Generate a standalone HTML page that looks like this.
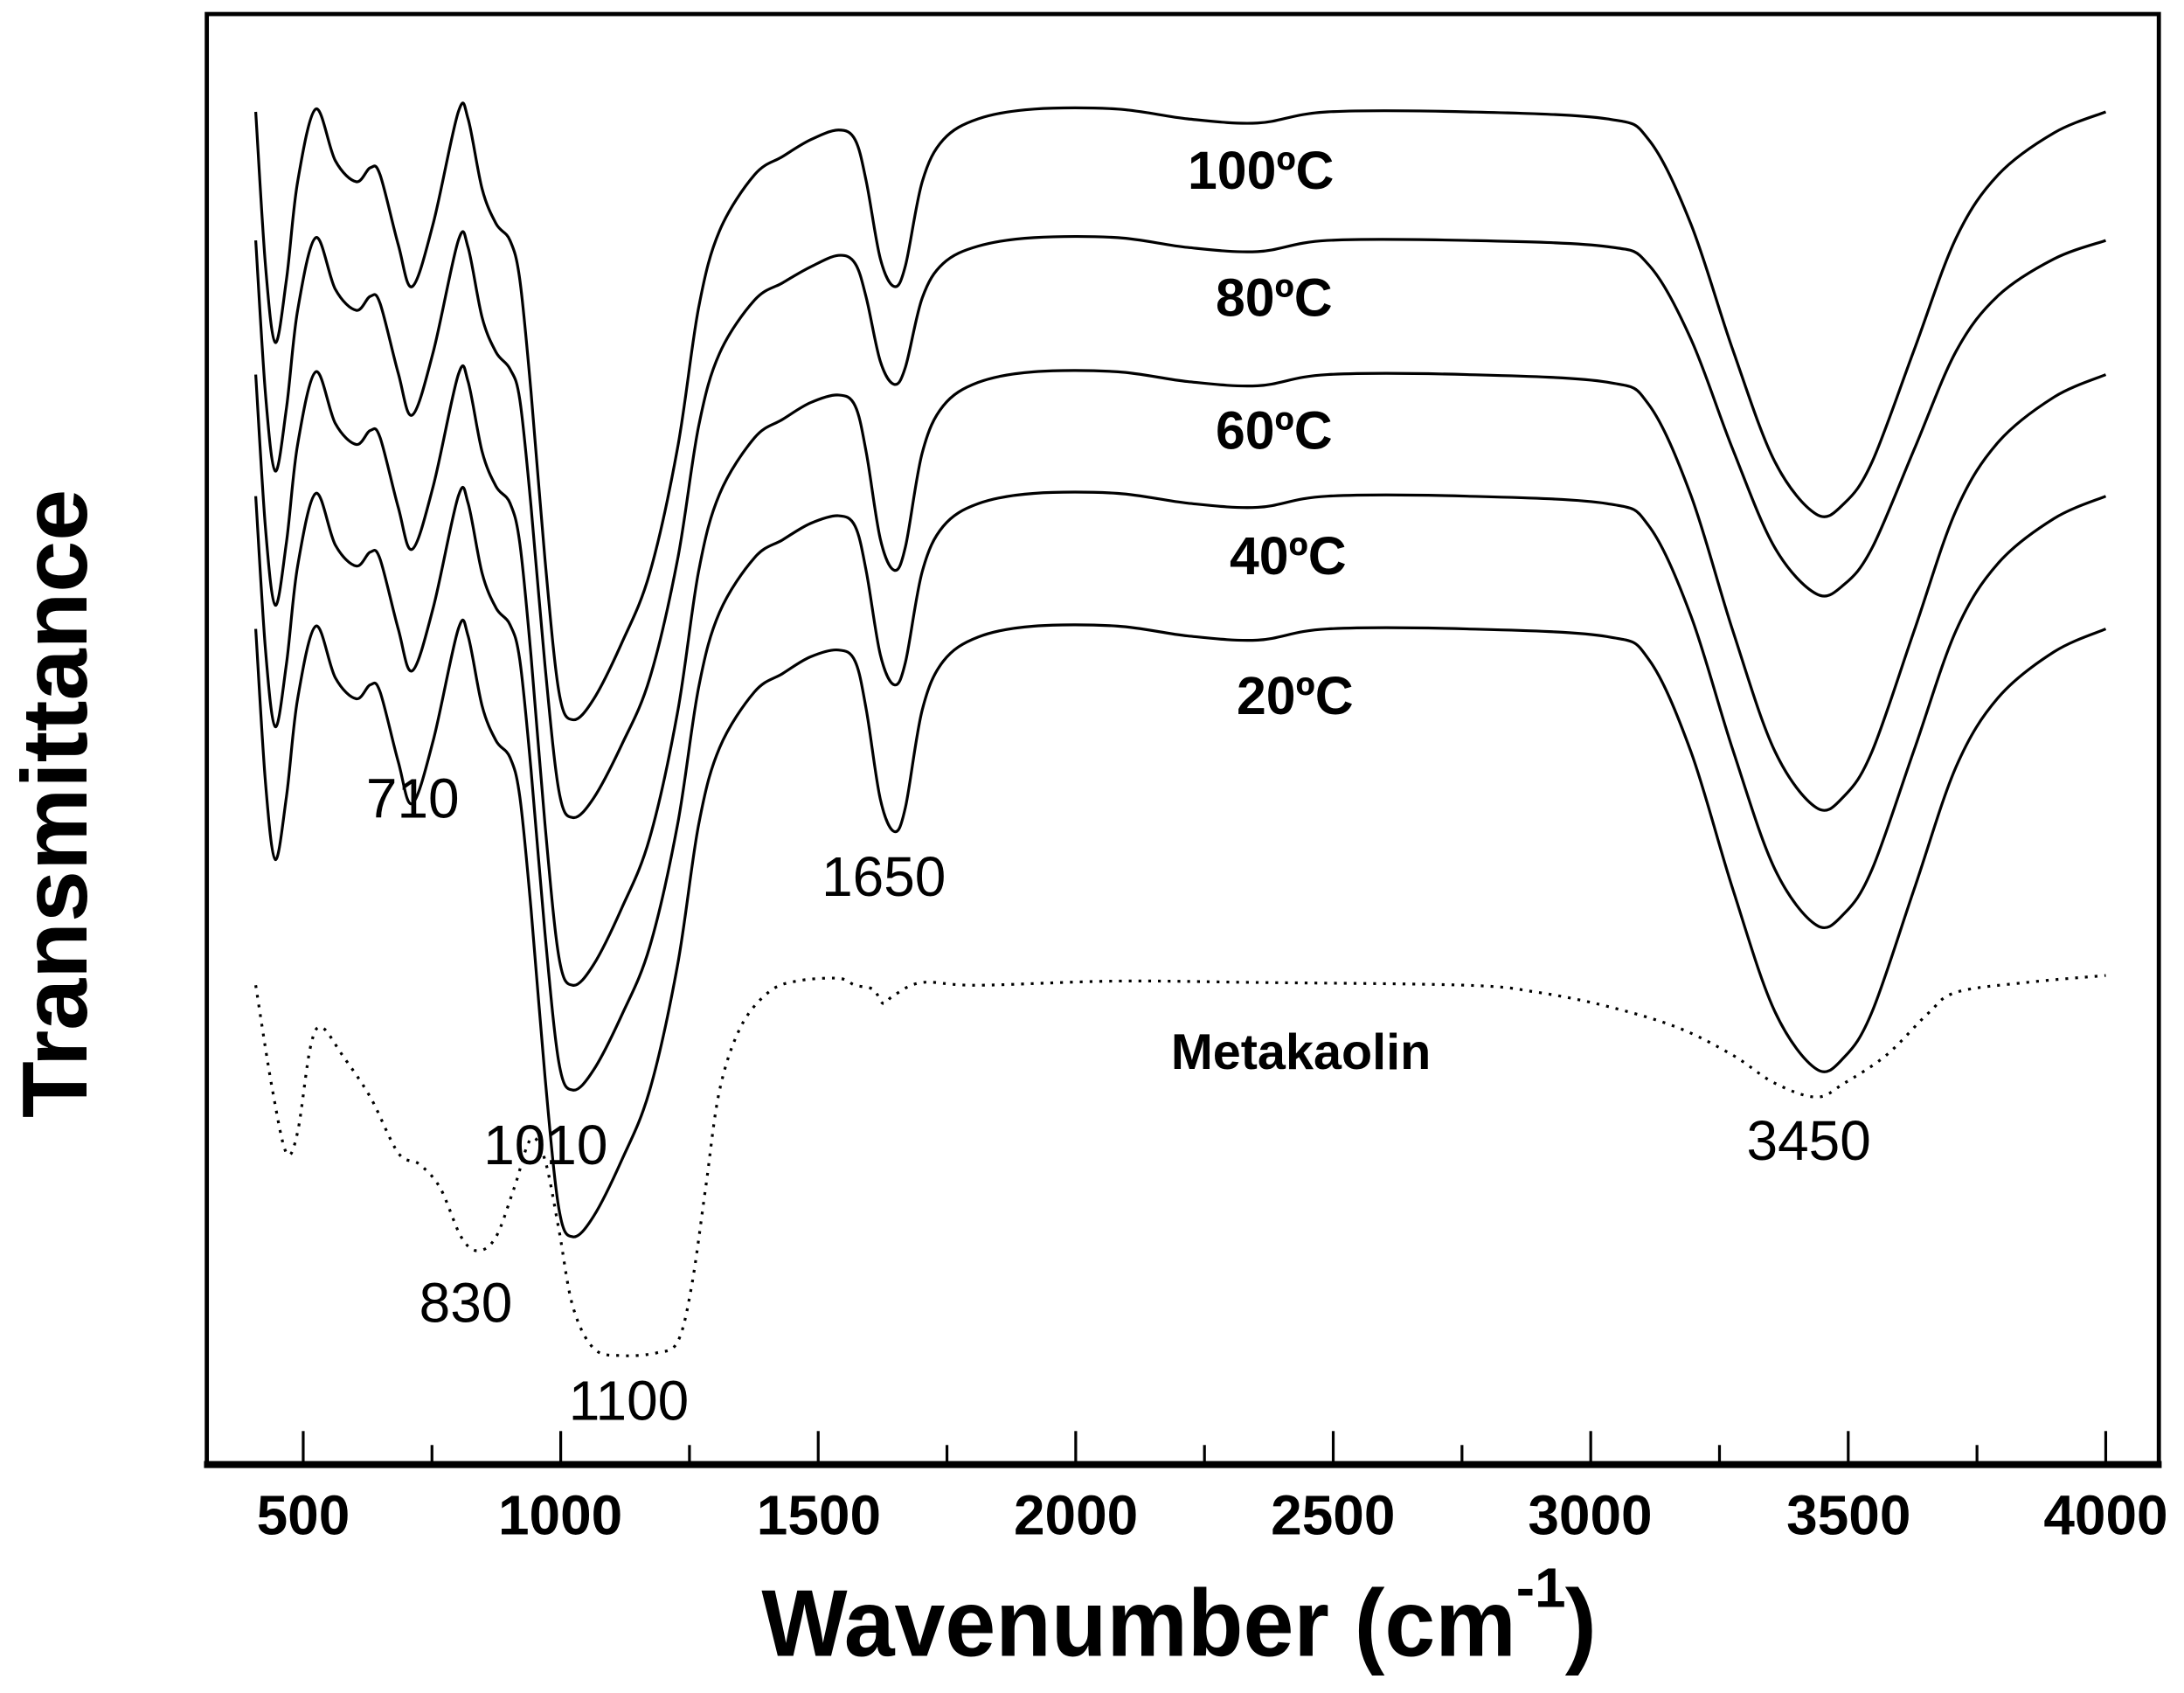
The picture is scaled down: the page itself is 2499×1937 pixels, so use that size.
<!DOCTYPE html>
<html><head><meta charset="utf-8"><style>html,body{margin:0;padding:0;background:#fff}svg{display:block}</style></head>
<body>
<svg id="s" width="2499" height="1937" viewBox="0 0 1563 1211.4" xmlns="http://www.w3.org/2000/svg" font-family="Liberation Sans, sans-serif">
<rect width="1563" height="1212" fill="#fff"/>
<rect x="148" y="10" width="1397" height="1038" fill="none" stroke="#000" stroke-width="3"/>
<line x1="146" y1="1048" x2="1547" y2="1048" stroke="#000" stroke-width="5"/>
<g id="ticks" stroke="#000" stroke-width="2"></g>
<g font-weight="bold" font-size="40" text-anchor="middle">
<text x="217" y="1098">500</text><text x="401" y="1098">1000</text><text x="586" y="1098">1500</text>
<text x="770" y="1098">2000</text><text x="954" y="1098">2500</text><text x="1138" y="1098">3000</text>
<text x="1323" y="1098">3500</text><text x="1507" y="1098">4000</text>
</g>
<text x="545" y="1185" font-weight="bold" font-size="68" textLength="540" lengthAdjust="spacingAndGlyphs">Wavenumber (cm</text>
<text x="1085" y="1150" font-weight="bold" font-size="40">-1</text>
<text x="1120" y="1185" font-weight="bold" font-size="68">)</text>
<text transform="translate(62,575) rotate(-90)" text-anchor="middle" font-weight="bold" font-size="66" textLength="450" lengthAdjust="spacingAndGlyphs">Transmittance</text>
<g id="curves" fill="none" stroke="#000" stroke-width="2"></g>
<g font-weight="bold" font-size="38">
<text x="850" y="135">100ºC</text><text x="870" y="226">80ºC</text><text x="870" y="321">60ºC</text>
<text x="880" y="411">40ºC</text><text x="885" y="511">20ºC</text>
<text x="838" y="765" font-size="36">Metakaolin</text>
</g>
<g font-size="40">
<text x="262" y="585">710</text><text x="588" y="641">1650</text><text x="346" y="833">1010</text>
<text x="1250" y="830">3450</text><text x="300" y="946">830</text><text x="407" y="1016">1100</text>
</g>
</svg>
<script>
var ns="http://www.w3.org/2000/svg";
var tg=document.getElementById("ticks");
for(var w=500;w<=4000;w+=250){var x=217+(w-500)*0.36857;var l=document.createElementNS(ns,"line");
l.setAttribute("x1",x);l.setAttribute("x2",x);l.setAttribute("y1",1047);l.setAttribute("y2",w%500==0?1024:1034);tg.appendChild(l);}
function smooth(P){var d="M"+P[0][0]+","+P[0][1];
for(var i=0;i<P.length-1;i++){var p0=P[i>0?i-1:0],p1=P[i],p2=P[i+1],p3=P[i+2<P.length?i+2:i+1];
var c1x=p1[0]+(p2[0]-p0[0])/6,c1y=p1[1]+(p2[1]-p0[1])/6,c2x=p2[0]-(p3[0]-p1[0])/6,c2y=p2[1]-(p3[1]-p1[1])/6;
d+=" C"+c1x.toFixed(1)+","+c1y.toFixed(1)+" "+c2x.toFixed(1)+","+c2y.toFixed(1)+" "+p2[0]+","+p2[1].toFixed(1);}
return d;}
var T=[[183,80],[190,190],[197,245],[205,200],[213,130],[226,78],[240,115],[255,130],[265,120],[272,125],[285,175],[295,205],[310,160],[328,80],[335,85],[345,135],[355,160],[365,172],[372,200],[380,280],[390,400],[400,495],[410,515],[425,500],[445,460],[465,410],[485,320],[500,220],[515,165],[540,125],[560,112],[580,100],[600,93],[612,100],[620,130],[630,185],[640,205],[648,190],[660,130],[675,100],[700,85],[740,78],[800,78],[850,85],[900,88],[950,80],[1050,80],[1150,85],[1180,100],[1210,160],[1240,250],[1270,330],[1300,368],[1320,360],[1340,330],[1370,250],[1400,170],[1430,125],[1470,95],[1507,80]];
var C=[[80,515,205,368],[172,585,275,425],[268,705,408,578],[355,780,490,662],[450,885,595,765]];
var cg=document.getElementById("curves");
C.forEach(function(c){var b=c[0],pts=[];
T.forEach(function(p){var x=p[0],y=p[1],yy;
if(x<=370)yy=y+(b-80);
else if(x<600)yy=b+(y-80)*(c[1]-b)/435;
else if(x<=700)yy=b+(y-80)*(c[2]-b)/125;
else if(x>=1150)yy=b+(y-80)*(c[3]-b)/288;
else yy=y+(b-80);
pts.push([x,yy]);});
var pl=document.createElementNS(ns,"path");pl.setAttribute("d",smooth(pts));cg.appendChild(pl);});
var M=[[183,705],[195,780],[205,825],[213,810],[222,750],[230,735],[245,755],[265,785],[285,825],[300,833],[315,850],[330,885],[342,895],[355,885],[368,850],[380,815],[390,830],[400,880],[410,935],[425,965],[445,970],[470,968],[485,960],[495,920],[505,850],[515,780],[530,735],[550,710],[570,702],[600,700],[612,705],[625,708],[632,718],[640,712],[660,703],[700,705],[800,702],[900,703],[1050,705],[1100,710],[1150,720],[1200,735],[1240,755],[1270,775],[1300,785],[1320,775],[1350,755],[1380,725],[1400,710],[1450,703],[1507,698]];
var mp=document.createElementNS(ns,"path");mp.setAttribute("d",smooth(M));mp.setAttribute("stroke","#000");mp.setAttribute("fill","none");mp.setAttribute("stroke-width","2");mp.setAttribute("stroke-dasharray","2,5");document.getElementById("s").appendChild(mp);
</script>
</body></html>
